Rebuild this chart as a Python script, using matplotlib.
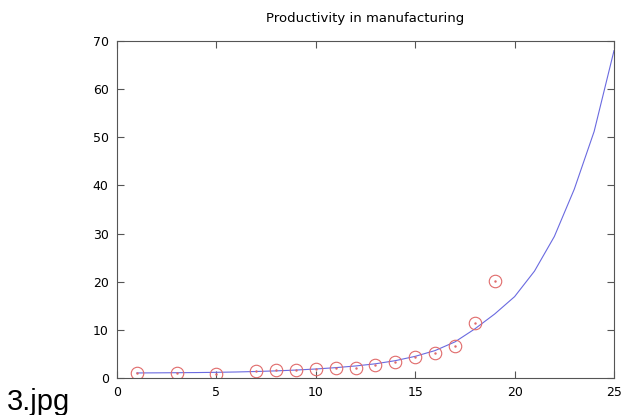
import matplotlib
matplotlib.use("Agg")
import matplotlib.pyplot as plt

# observed productivity (red circles)
obs_x = [1, 3, 5, 7, 8, 9, 10, 11, 12, 13, 14, 15, 16, 17, 18, 19]
obs_y = [1.0, 1.0, 0.9, 1.5, 1.65, 1.65, 1.9, 2.1, 2.0, 2.6, 3.3, 4.3, 5.1, 6.6, 11.4, 20.2]

# fitted curve (blue line)
fit_x = list(range(1, 26))
fit_y = [1.05, 1.07, 1.1, 1.13, 1.18, 1.25, 1.35, 1.48, 1.65, 1.87, 2.15, 2.5, 2.95,
         3.6, 4.5, 5.7, 7.5, 10.2, 13.3, 16.9, 22.2, 29.4, 39.2, 51.2, 68.0]

xticks = [0, 5, 10, 15, 20, 25]
yticks = [0, 10, 20, 30, 40, 50, 60, 70]

plt.rcParams["font.family"] = ["DejaVu Sans"]

fig = plt.figure(figsize=(6.24, 4.15), dpi=100)
ax = fig.add_axes([117 / 624, 1 - 378 / 415, (614 - 117) / 624, (378 - 41) / 415])

ax.plot(fit_x, fit_y, color="#6a6ae0", linewidth=0.8)
ax.plot(obs_x, obs_y, linestyle="none", marker="o", markersize=9,
        markerfacecolor="none", markeredgecolor="#e06a6a", markeredgewidth=0.8)
ax.plot(obs_x, obs_y, linestyle="none", marker=".", markersize=1.5, color="#e06a6a")

ax.set_xlim(0, 25)
ax.set_ylim(0, 70)
ax.set_xticks(xticks)
ax.set_yticks(yticks)
ax.tick_params(direction="in", top=True, right=True, length=5, width=0.8,
               color="#555555", labelsize=9, pad=6)
for s in ax.spines.values():
    s.set_color("#555555")
    s.set_linewidth(0.8)

ax.set_title("Productivity in manufacturing", fontsize=9.5, pad=14)

fig.text(7 / 624, 1 - 410 / 415, "3.jpg", fontsize=21, family="Liberation Sans")

fig.savefig("out.png", dpi=100)
